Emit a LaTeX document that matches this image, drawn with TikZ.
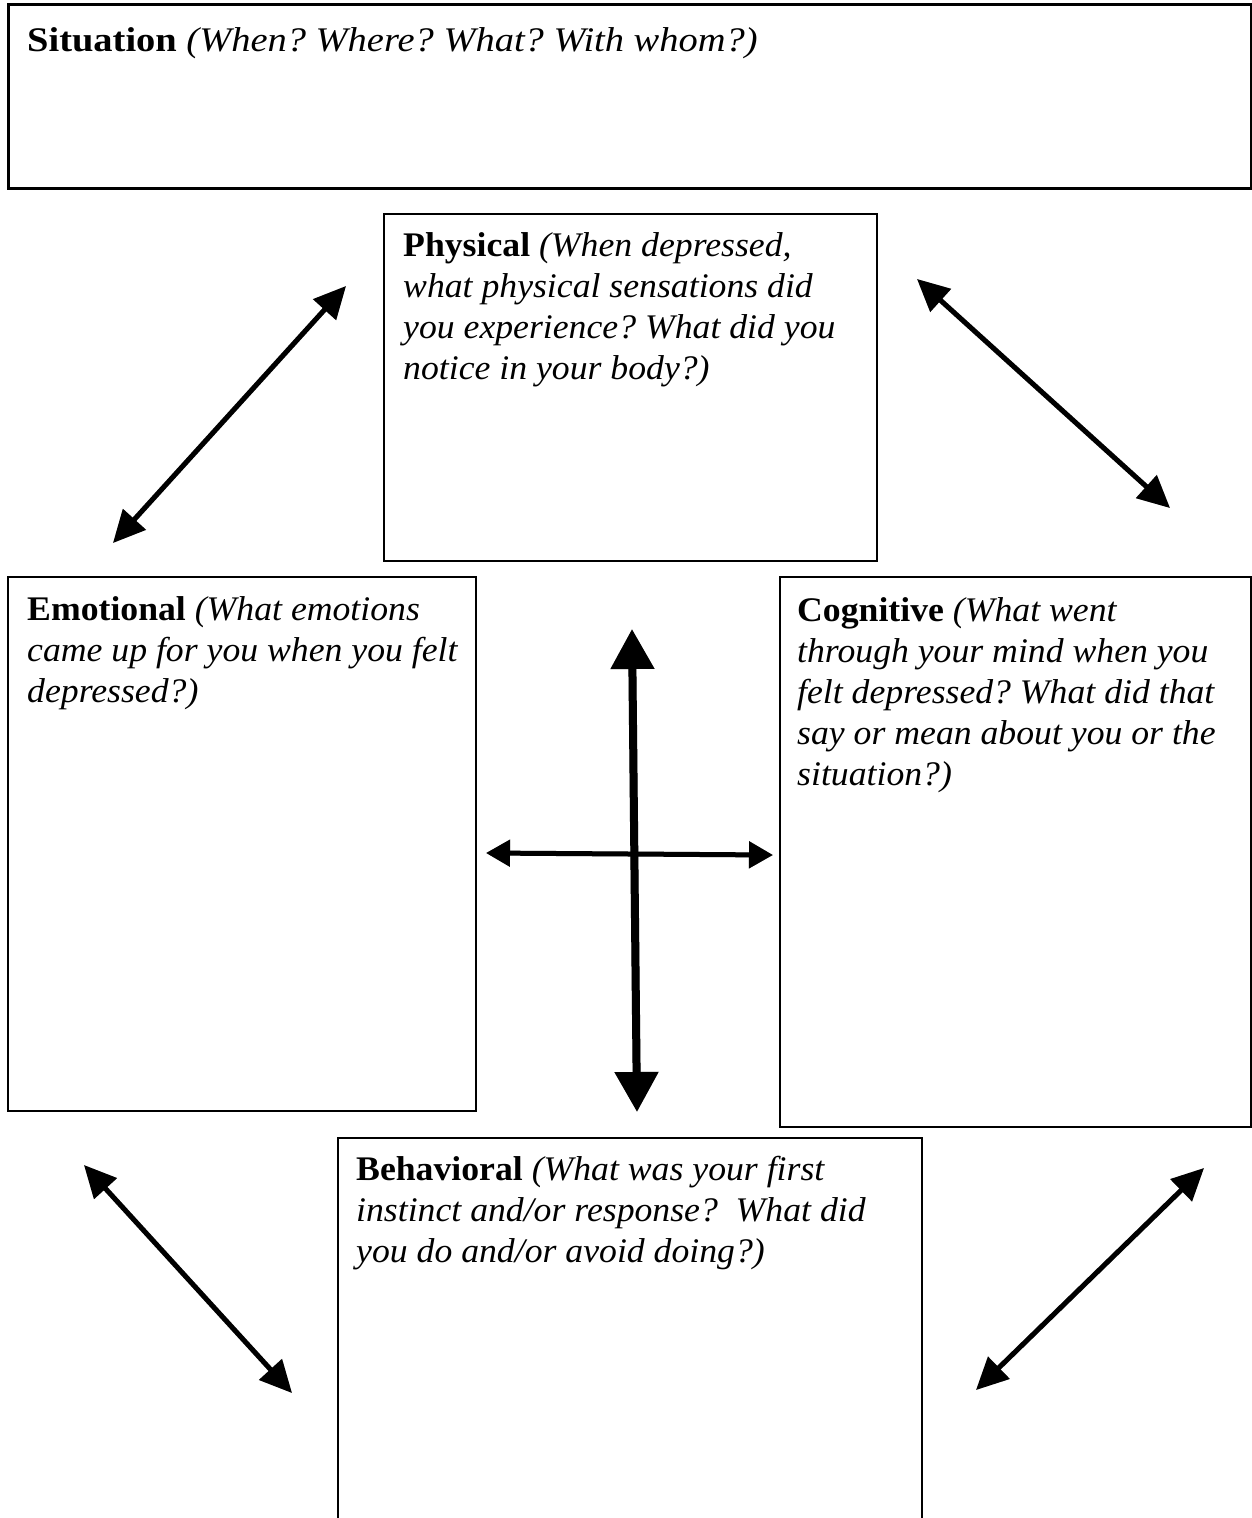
\documentclass[tikz,border=0pt]{standalone}
\usepackage{fontspec}
\setmainfont[FakeStretch=1.035]{Liberation Serif}
\newfontfamily\widefont[FakeStretch=1.115]{Liberation Serif}
\usetikzlibrary{arrows.meta}
\newcommand\boxhead[1]{{\upshape\bfseries #1}}
\frenchspacing
\begin{document}
\begin{tikzpicture}[x=1pt,y=-1pt,
  box/.style={draw, line width=2pt, anchor=north west, inner sep=0pt},
  lbl/.style={anchor=base west, align=left, inner sep=0pt,
    font=\fontsize{34.5}{41}\selectfont\itshape\frenchspacing},
  dbl/.style={line width=5pt, {Triangle[length=32pt,width=30pt]}-{Triangle[length=32pt,width=30pt]}},
  dblh/.style={line width=5pt, {Triangle[length=24pt,width=26pt]}-{Triangle[length=24pt,width=26pt]}},
  dblv/.style={line width=8pt, {Triangle[length=40pt,width=42pt]}-{Triangle[length=40pt,width=42pt]}},
  shd/.style={draw=black, opacity=0.25, xshift=2pt, yshift=-2pt}]
\useasboundingbox (0,0) rectangle (1252,1518);
\fill[white] (0,0) rectangle (1252,1518);

% boxes
\node[box, line width=3pt, minimum width=1243pt, minimum height=184pt] (sit) at (7,3) {};
\node[box, minimum width=493pt, minimum height=347pt] (phys) at (383,213) {};
\node[box, minimum width=468pt, minimum height=534pt] (emo) at (7,576) {};
\node[box, minimum width=471pt, minimum height=550pt] (cog) at (779,576) {};
\node[box, minimum width=584pt, minimum height=420pt] (beh) at (337,1137) {};

% texts (anchor = baseline of last line)
\node[lbl, font=\fontsize{34.5}{41}\selectfont\widefont\itshape\frenchspacing] (sittxt) at (27,51) {\boxhead{Situation} (When? Where? What? With whom?)};
\node[lbl] (phystxt) at (403,379) {\boxhead{Physical} (When depressed,\\what physical sensations did\\you experience? What did you\\notice in your body?)};
\node[lbl] (emotxt) at (27,702) {\boxhead{Emotional} (What emotions\\came up for you when you felt\\depressed?)};
\node[lbl] (cogtxt) at (797,785) {\boxhead{Cognitive} (What went\\through your mind when you\\felt depressed? What did that\\say or mean about you or the\\situation?)};
\node[lbl] (behtxt) at (356,1262) {\boxhead{Behavioral} (What was your first\\instinct and/or response?~ What did\\you do and/or avoid doing?)};

% arrow end points
\coordinate (a1) at (113,543); \coordinate (a2) at (346,286);
\coordinate (b1) at (917,279); \coordinate (b2) at (1170,508);
\coordinate (c1) at (84,1165); \coordinate (c2) at (292,1393);
\coordinate (d1) at (1204,1168); \coordinate (d2) at (976,1390);
\coordinate (v1) at (632,629); \coordinate (v2) at (637,1112);
\coordinate (h1) at (486,853); \coordinate (h2) at (773,855);

% shadows
\draw[dbl, shd] (a1) -- (a2);
\draw[dbl, shd] (b1) -- (b2);
\draw[dbl, shd] (c1) -- (c2);
\draw[dbl, shd] (d1) -- (d2);
\draw[dblv, shd] (v1) -- (v2);
\draw[dblh, shd] (h1) -- (h2);

% arrows
\draw[dbl] (a1) -- (a2);
\draw[dbl] (b1) -- (b2);
\draw[dbl] (c1) -- (c2);
\draw[dbl] (d1) -- (d2);
\draw[dblh] (h1) -- (h2);
\draw[dblv] (v1) -- (v2);
\end{tikzpicture}
\end{document}
